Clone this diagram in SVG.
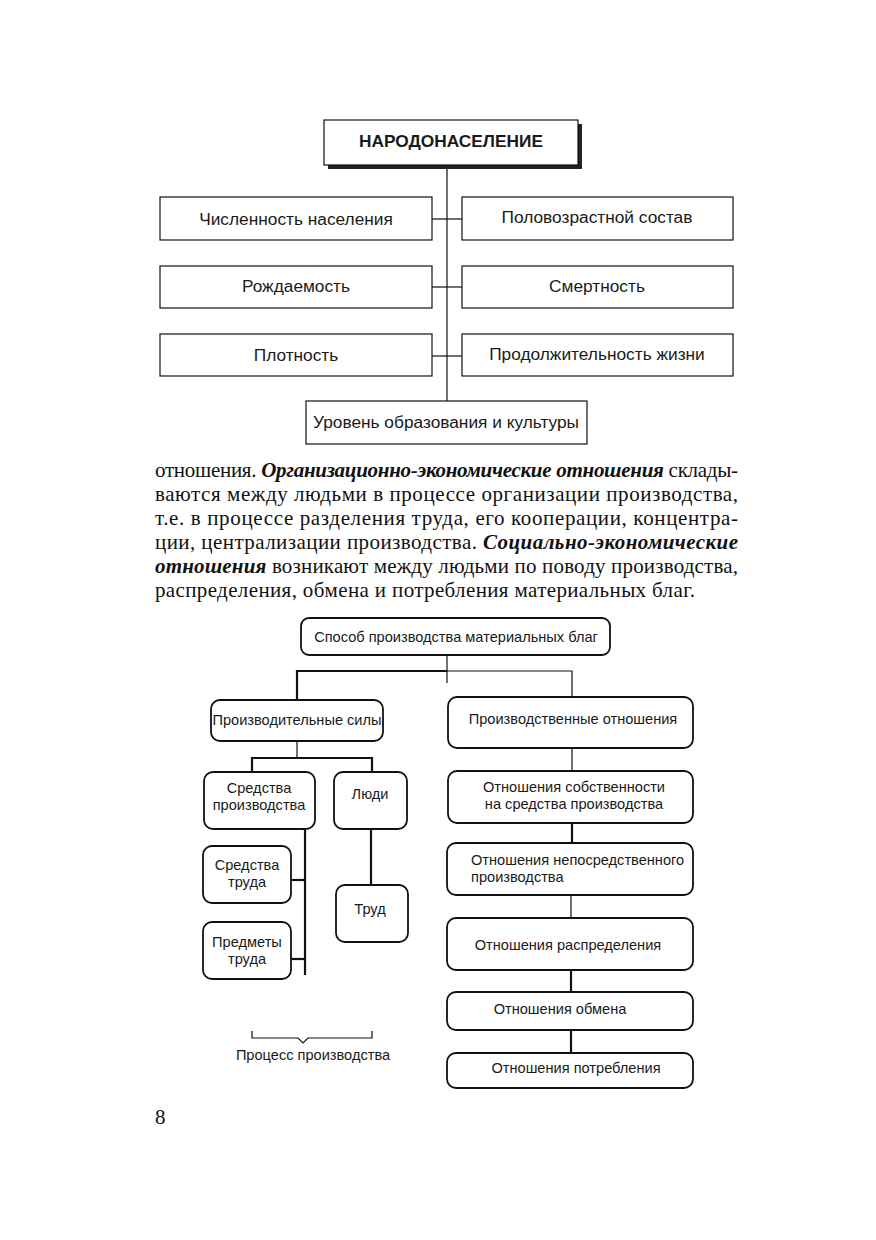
<svg xmlns="http://www.w3.org/2000/svg" width="876" height="1240" viewBox="0 0 876 1240">
<style>
.bg{fill:#fff}
.sq{fill:#fff;stroke:#111;stroke-width:1.2}
.rb{fill:#fff;stroke:#111;stroke-width:1.8}
.t{font-family:"Liberation Sans",Arial,sans-serif;font-size:17.3px;fill:#1a1a1a;text-anchor:middle}
.s{font-family:"Liberation Sans",Arial,sans-serif;font-size:14.6px;fill:#1a1a1a;text-anchor:middle}
.sl{font-family:"Liberation Sans",Arial,sans-serif;font-size:14.6px;fill:#1a1a1a}
.p{font-family:"Liberation Serif","Times New Roman",serif;font-size:21px;fill:#111}
.bi{font-weight:bold;font-style:italic}
.c{fill:none;stroke:#111;stroke-width:1.2}
.ck{fill:none;stroke:#111;stroke-width:2.2}
</style>
<rect class="bg" x="0" y="0" width="876" height="1240"/>

<g id="connectors">
  <line class="c" x1="447" y1="165" x2="447" y2="402"/>
  <line class="c" x1="432" y1="219" x2="462" y2="219"/>
  <line class="c" x1="432" y1="287" x2="462" y2="287"/>
  <line class="c" x1="432" y1="356" x2="462" y2="356"/>

  <line class="c" x1="447" y1="655" x2="447" y2="683"/>
  <polyline class="ck" points="297,700 297,671 447,671"/>
  <polyline class="c" points="447,671 572,671 572,697"/>
  <line class="c" x1="297" y1="741" x2="297" y2="758"/>
  <polyline class="ck" points="252,772 252,758 372,758 372,772"/>
  <line class="ck" x1="305" y1="821" x2="305" y2="975"/>
  <line class="ck" x1="286" y1="880" x2="305" y2="880"/>
  <line class="ck" x1="286" y1="959" x2="305" y2="959"/>
  <line class="ck" x1="371" y1="821" x2="371" y2="893"/>
  <line class="c" x1="572" y1="748" x2="572" y2="771"/>
  <line class="ck" x1="572" y1="823" x2="572" y2="843"/>
  <line class="c" x1="571" y1="895" x2="571" y2="918"/>
  <line class="ck" x1="571" y1="970" x2="571" y2="992"/>
  <line class="ck" x1="571" y1="1030" x2="571" y2="1053"/>
  <polyline class="c" points="252,1031 252,1038 298,1038 303,1043 308,1038 372,1038 372,1031"/>
</g>

<g id="narodonaselenie">
  <rect x="328" y="124" width="254" height="45" fill="#222"/>
  <rect class="sq" x="324" y="120" width="254" height="45"/>
  <text class="t" x="451" y="147" font-weight="bold" font-size="16.5">НАРОДОНАСЕЛЕНИЕ</text>
</g>
<g id="chislennost">
  <rect class="sq" x="160" y="197" width="272" height="43"/>
  <text class="t" x="296" y="225">Численность населения</text>
</g>
<g id="polovozrastnoy">
  <rect class="sq" x="462" y="197" width="271" height="43"/>
  <text class="t" x="597" y="223">Половозрастной состав</text>
</g>
<g id="rozhdaemost">
  <rect class="sq" x="160" y="266" width="272" height="42"/>
  <text class="t" x="296" y="292">Рождаемость</text>
</g>
<g id="smertnost">
  <rect class="sq" x="462" y="266" width="271" height="42"/>
  <text class="t" x="597" y="292">Смертность</text>
</g>
<g id="plotnost">
  <rect class="sq" x="160" y="334" width="272" height="42"/>
  <text class="t" x="296" y="361">Плотность</text>
</g>
<g id="prodolzhitelnost">
  <rect class="sq" x="462" y="334" width="271" height="42"/>
  <text class="t" x="597" y="360">Продолжительность жизни</text>
</g>
<g id="uroven">
  <rect class="sq" x="306" y="401" width="281" height="43"/>
  <text class="t" x="446" y="428">Уровень образования и культуры</text>
</g>

<g id="paragraph">
  <text class="p" x="155" y="477" textLength="583" lengthAdjust="spacing">отношения. <tspan class="bi">Организационно-экономические отношения</tspan> склады-</text>
  <text class="p" x="155" y="501" textLength="583" lengthAdjust="spacing">ваются между людьми в процессе организации производства,</text>
  <text class="p" x="155" y="525" textLength="583" lengthAdjust="spacing">т.е. в процессе разделения труда, его кооперации, концентра-</text>
  <text class="p" x="155" y="549" textLength="583" lengthAdjust="spacing">ции, централизации производства. <tspan class="bi">Социально-экономические</tspan></text>
  <text class="p" x="155" y="573" textLength="583" lengthAdjust="spacing"><tspan class="bi">отношения</tspan> возникают между людьми по поводу производства,</text>
  <text class="p" x="155" y="597" textLength="540" lengthAdjust="spacing">распределения, обмена и потребления материальных благ.</text>
</g>

<g id="sposob">
  <rect class="rb" x="301" y="618" width="309" height="37" rx="8"/>
  <text class="s" x="456" y="642">Способ производства материальных благ</text>
</g>
<g id="proizvoditelnye">
  <rect class="rb" x="211" y="700" width="172" height="41" rx="9"/>
  <text class="s" x="297" y="725">Производительные силы</text>
</g>
<g id="proizvodstvennye">
  <rect class="rb" x="448" y="697" width="245" height="51" rx="9"/>
  <text class="s" x="573" y="724">Производственные отношения</text>
</g>
<g id="sredstva_proizvodstva">
  <rect class="rb" x="204" y="772" width="111" height="57" rx="9"/>
  <text class="s" x="259" y="793">Средства</text>
  <text class="s" x="259" y="810">производства</text>
</g>
<g id="lyudi">
  <rect class="rb" x="334" y="772" width="73" height="57" rx="9"/>
  <text class="s" x="370" y="799">Люди</text>
</g>
<g id="sredstva_truda">
  <rect class="rb" x="203" y="846" width="88" height="57" rx="9"/>
  <text class="s" x="247" y="870">Средства</text>
  <text class="s" x="247" y="887">труда</text>
</g>
<g id="trud">
  <rect class="rb" x="336" y="885" width="72" height="57" rx="9"/>
  <text class="s" x="370" y="914">Труд</text>
</g>
<g id="predmety_truda">
  <rect class="rb" x="203" y="922" width="88" height="57" rx="9"/>
  <text class="s" x="247" y="947">Предметы</text>
  <text class="s" x="247" y="964">труда</text>
</g>
<g id="process">
  <text class="s" x="313" y="1060">Процесс производства</text>
</g>
<g id="sobstvennost">
  <rect class="rb" x="448" y="771" width="245" height="52" rx="9"/>
  <text class="s" x="574" y="792">Отношения собственности</text>
  <text class="s" x="574" y="809">на средства производства</text>
</g>
<g id="neposredstvennoe">
  <rect class="rb" x="447" y="843" width="246" height="52" rx="9"/>
  <text class="sl" x="471" y="865">Отношения непосредственного</text>
  <text class="sl" x="471" y="882">производства</text>
</g>
<g id="raspredelenie">
  <rect class="rb" x="447" y="918" width="246" height="52" rx="9"/>
  <text class="s" x="568" y="950">Отношения распределения</text>
</g>
<g id="obmen">
  <rect class="rb" x="447" y="992" width="246" height="38" rx="9"/>
  <text class="s" x="560" y="1014">Отношения обмена</text>
</g>
<g id="potreblenie">
  <rect class="rb" x="447" y="1053" width="246" height="35" rx="9"/>
  <text class="s" x="576" y="1073">Отношения потребления</text>
</g>

<text class="p" x="155" y="1124">8</text>
</svg>
